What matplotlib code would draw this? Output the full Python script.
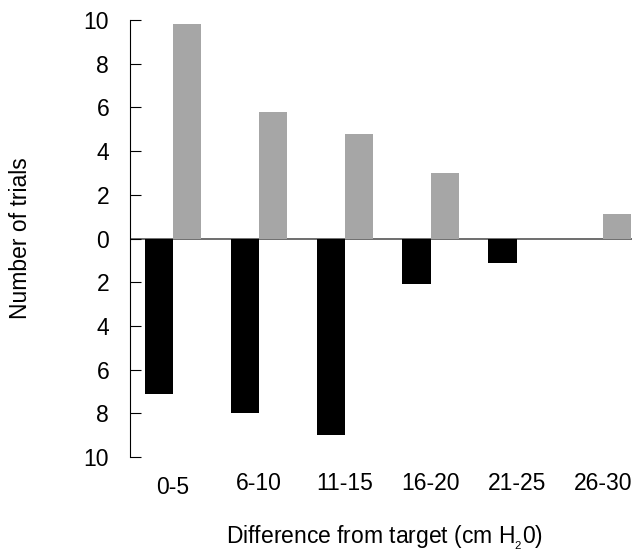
import matplotlib
matplotlib.use("Agg")
import matplotlib.pyplot as plt
import matplotlib.transforms as mtransforms
import numpy as np

plt.rcParams['font.family'] = ['Liberation Sans', 'DejaVu Sans']
plt.rcParams['mathtext.fontset'] = 'custom'
plt.rcParams['mathtext.rm'] = 'Liberation Sans'
plt.rcParams['mathtext.it'] = 'Liberation Sans'

categories = ["0-5", "6-10", "11-15", "16-20", "21-25", "26-30"]
above = [9.8, 5.8, 4.8, 3.0, 0.0, 1.1]      # gray bars (upward)
below = [7.1, 8.0, 9.0, 2.1, 1.1, 0.0]      # black bars (downward)
yticks = [-10, -8, -6, -4, -2, 0, 2, 4, 6, 8, 10]
ytick_labels = ["10", "8", "6", "4", "2", "0", "2", "4", "6", "8", "10"]

W, H = 632, 551
fig = plt.figure(figsize=(W / 100, H / 100), dpi=100)
ax = fig.add_axes([130 / W, 94 / H, (W - 130) / W, (531 - 94) / H])

x = np.arange(len(categories))
bw = 0.33
ax.bar(x - bw / 2, [-v for v in below], width=bw, color="black", zorder=2)
ax.bar(x + bw / 2, above, width=bw, color="#a6a6a6", zorder=2)
ax.axhline(0, color="#555555", lw=1.2, zorder=1)

fs = 16.5
ax.set_xlim(-0.5, 5.34)
ax.set_ylim(-10, 10)
ax.set_yticks(yticks)
ax.set_yticklabels(ytick_labels, fontsize=fs)
ax.tick_params(axis="y", direction="in", length=8, width=0.8, pad=15)
ax.set_xticks([])
for s in ["top", "right", "bottom"]:
    ax.spines[s].set_visible(False)
ax.spines["left"].set_linewidth(0.8)

trans = mtransforms.blended_transform_factory(ax.transData, ax.transAxes)
for i, lab in enumerate(categories):
    off = 30 if i == 0 else 26
    ax.text(x[i], 0, lab, transform=trans + mtransforms.ScaledTranslation(0, -off / 100, fig.dpi_scale_trans),
            ha="center", va="center", fontsize=fs)

fig.text(385 / W, 1 - 538 / H, "Difference from target (cm H$_{_2}$0)", ha="center", va="center", fontsize=fs)
fig.text(21 / W, 1 - 238 / H, "Number of trials", ha="center", va="center", rotation=90, fontsize=fs)

fig.savefig("out.png", dpi=100)
